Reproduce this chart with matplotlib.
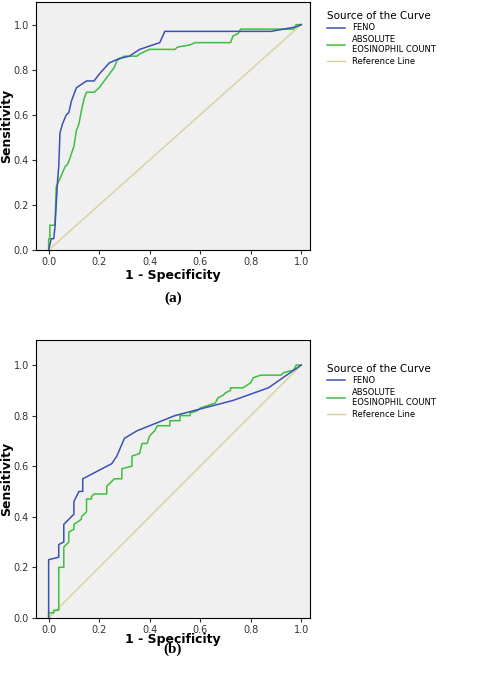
import matplotlib
matplotlib.use("Agg")
import matplotlib.pyplot as plt
from matplotlib.lines import Line2D

# ---- data ----
feno_a_x = [0, 0.01, 0.02, 0.025, 0.03, 0.035, 0.04, 0.045, 0.055, 0.07, 0.08, 0.09, 0.11, 0.15, 0.18, 0.2, 0.24, 0.28, 0.32, 0.36, 0.44, 0.46, 0.88, 0.98, 1]
feno_a_y = [0, 0.05, 0.05, 0.1, 0.2, 0.3, 0.37, 0.52, 0.56, 0.6, 0.61, 0.66, 0.72, 0.75, 0.75, 0.78, 0.83, 0.85, 0.86, 0.89, 0.92, 0.97, 0.97, 0.99, 1]
eos_a_x = [0, 0, 0.005, 0.005, 0.025, 0.03, 0.05, 0.065, 0.075, 0.085, 0.1, 0.11, 0.12, 0.13, 0.14, 0.15, 0.18, 0.2, 0.22, 0.24, 0.26, 0.27, 0.3, 0.35, 0.36, 0.38, 0.4, 0.5, 0.51, 0.56, 0.58, 0.72, 0.73, 0.75, 0.76, 0.97, 0.98, 1]
eos_a_y = [0, 0.05, 0.05, 0.11, 0.11, 0.28, 0.33, 0.37, 0.38, 0.41, 0.46, 0.53, 0.56, 0.62, 0.67, 0.7, 0.7, 0.72, 0.75, 0.78, 0.81, 0.84, 0.86, 0.86, 0.87, 0.88, 0.89, 0.89, 0.9, 0.91, 0.92, 0.92, 0.95, 0.96, 0.98, 0.98, 1, 1]

feno_b_x = [0, 0, 0.04, 0.04, 0.06, 0.06, 0.1, 0.1, 0.12, 0.135, 0.135, 0.25, 0.27, 0.3, 0.35, 0.5, 0.73, 0.87, 1]
feno_b_y = [0, 0.23, 0.24, 0.29, 0.3, 0.37, 0.41, 0.46, 0.5, 0.5, 0.55, 0.61, 0.64, 0.71, 0.74, 0.8, 0.86, 0.91, 1]
eos_b_x = [0, 0, 0.02, 0.02, 0.04, 0.04, 0.06, 0.06, 0.08, 0.08, 0.1, 0.1, 0.13, 0.13, 0.15, 0.15, 0.17, 0.17, 0.18, 0.23, 0.23, 0.26, 0.29, 0.29, 0.33, 0.33, 0.36, 0.37, 0.39, 0.4, 0.42, 0.43, 0.48, 0.48, 0.52, 0.52, 0.56, 0.56, 0.59, 0.6, 0.66, 0.67, 0.69, 0.7, 0.72, 0.72, 0.77, 0.8, 0.81, 0.84, 0.92, 0.93, 0.97, 0.98, 1]
eos_b_y = [0, 0.02, 0.02, 0.03, 0.03, 0.2, 0.2, 0.28, 0.3, 0.34, 0.35, 0.37, 0.39, 0.4, 0.42, 0.47, 0.47, 0.48, 0.49, 0.49, 0.52, 0.55, 0.55, 0.59, 0.6, 0.64, 0.65, 0.69, 0.69, 0.72, 0.74, 0.76, 0.76, 0.78, 0.78, 0.8, 0.8, 0.81, 0.82, 0.83, 0.85, 0.87, 0.88, 0.89, 0.9, 0.91, 0.91, 0.93, 0.95, 0.96, 0.96, 0.97, 0.98, 1, 1]

labels = ["FENO", "ABSOLUTE\nEOSINOPHIL COUNT", "Reference Line"]
BLUE, GREEN, REF = "#3c52b2", "#3dbf3d", "#d8d09c"
ticks = [0.0, 0.2, 0.4, 0.6, 0.8, 1.0]

fig = plt.figure(figsize=(4.8, 6.85), dpi=100)
ax_a = fig.add_axes([0.075, 0.635, 0.571, 0.362])
ax_b = fig.add_axes([0.075, 0.098, 0.571, 0.406])

panels = [
    (ax_a, feno_a_x, feno_a_y, eos_a_x, eos_a_y, "(a)", 0.565, 0.93, -0.075),
    (ax_b, feno_b_x, feno_b_y, eos_b_x, eos_b_y, "(b)", 0.052, 0.415, -0.055),
]
for ax, fx, fy, ex, ey, tag, tag_y, leg_y, xl_y in panels:
    ax.set_facecolor("#f0f0f0")
    ax.plot([0, 1], [0, 1], color=REF, lw=1)
    ax.plot(ex, ey, color=GREEN, lw=1.1)
    ax.plot(fx, fy, color=BLUE, lw=1.1)
    ax.set_xlim(-0.05, 1.035)
    ax.set_ylim(0, 1.1)
    ax.set_xticks(ticks)
    ax.set_yticks(ticks)
    ax.set_xticklabels([f"{t:.1f}" for t in ticks])
    ax.set_yticklabels([f"{t:.1f}" for t in ticks])
    ax.tick_params(labelsize=7, length=3, pad=2, colors="#333333")
    ax.set_xlabel("1 - Specificity", fontsize=9, fontweight="bold")
    ax.set_ylabel("Sensitivity", fontsize=9, fontweight="bold")
    ax.xaxis.set_label_coords(0.5, xl_y)
    ax.yaxis.set_label_coords(-0.085, 0.5)
    fig.text(0.36, tag_y, tag, fontsize=11, fontweight="bold",
             family="Liberation Serif", ha="center", va="center")
    handles = [Line2D([], [], color=BLUE, lw=1.1),
               Line2D([], [], color=GREEN, lw=1.1),
               Line2D([], [], color=REF, lw=1)]
    fig.legend(handles, labels, loc="upper left", bbox_to_anchor=(0.665, leg_y + 0.065),
               title="Source of the Curve", frameon=False, fontsize=6,
               title_fontsize=7.5, handlelength=2.2, labelspacing=0.3,
               alignment="left")

fig.savefig("out.png", dpi=100)
